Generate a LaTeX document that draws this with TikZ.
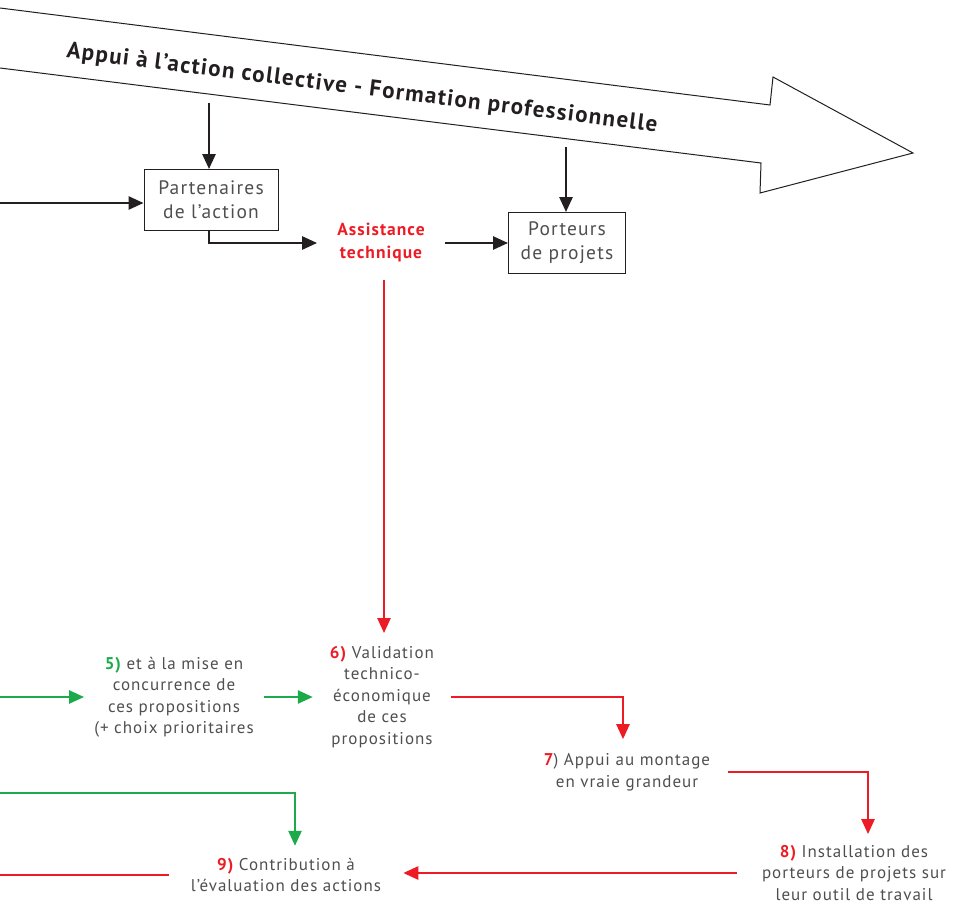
\documentclass[tikz,border=0pt]{standalone}
\usepackage{fontspec}
\setmainfont{PT Sans}[LetterSpace=6]
\usetikzlibrary{arrows.meta}
\definecolor{R}{HTML}{ED1C24}
\definecolor{G}{HTML}{1DAA4B}
\definecolor{txt}{HTML}{4F4F4F}
\definecolor{ink}{HTML}{231F20}

\tikzset{
  box/.style={draw=ink, line width=0.9pt, minimum width=134pt, minimum height=61pt, align=center, text=txt, font=\fontsize{19.5}{24}\selectfont},
  stage/.style={align=center, text=txt, font=\fontsize{17}{21.5}\selectfont},
  blk/.style={draw=ink, line width=2.6pt, -{Triangle[length=15pt,width=13pt]}},
  redarr/.style={draw=R, line width=2.5pt, -{Triangle[length=15pt,width=13pt]}},
  grnarr/.style={draw=G, line width=2.5pt, -{Triangle[length=15pt,width=13pt]}},
}

\begin{document}
\begin{tikzpicture}[x=1pt,y=-1pt]
    \useasboundingbox (0,0) rectangle (955,904);

    % big arrow
    \draw[draw=ink, line width=1pt] (0,8) -- (770,105) -- (773,77) -- (913,153) -- (760,193) -- (761,163) -- (0,68);
    \node at (362,89) (title) [rotate=-7.15, text=ink, font=\fontsize{23}{23}\selectfont\bfseries] {Appui à l’action collective - Formation professionnelle};

    \node at (211,200) (part) [box] {Partenaires\\de l’action};
    \node at (381,243) (assist) [stage, text=R, font=\fontsize{17.5}{23}\selectfont\bfseries, inner xsep=20pt, inner ysep=17pt] {Assistance\\technique};
    \node at (567,243) (port) [box, minimum width=117pt] {Porteurs\\de projets};

    \node at (174,697) (five) [stage, inner xsep=10pt] {\textcolor{G}{\bfseries 5)} et à la mise en\\concurrence de\\ces propositions\\(+ choix prioritaires};
    \node at (382,697) (six) [stage, inner xsep=17pt, inner ysep=13pt] {\textcolor{R}{\bfseries 6)} Validation\\technico-\\économique\\de ces\\propositions};
    \node at (627,772) (seven) [stage, inner xsep=18pt, inner ysep=14pt] {\textcolor{R}{\bfseries 7}) Appui au montage\\en vraie grandeur};
    \node at (854,873) (eight) [stage, inner xsep=25pt, inner ysep=11pt] {\textcolor{R}{\bfseries 8)} Installation des\\porteurs de projets sur\\leur outil de travail};
    \node at (286,875) (nine) [stage, inner xsep=22pt, inner ysep=12pt] {\textcolor{R}{\bfseries 9)} Contribution à\\l’évaluation des actions};

    \coordinate (bandA) at (209,103);
    \coordinate (bandB) at (566,147);
    \coordinate (leftA) at (0,203);
    \coordinate (left5) at (0,697);
    \coordinate (left9g) at (0,793);
    \coordinate (left9r) at (0,876);

    \draw[blk] (bandA) -- (bandA |- part.north);
    \draw[blk] (bandB) -- (bandB |- port.north);
    \draw[blk] (leftA) -- (leftA -| part.west);
    \draw[blk] ([xshift=-2pt]part.south) |- (assist.west);
    \draw[blk] (assist.east) -- (assist.east -| port.west);

    \draw[redarr] ([xshift=3pt]assist.south) -- ([xshift=3pt]assist.south |- six.north);
    \draw[grnarr] (five.west -| left5) -- (five.west);
    \draw[grnarr] (five.east) -- (five.east -| six.west);
    \draw[redarr] (six.east) -| ([xshift=-4pt]seven.north);
    \draw[redarr] (seven.east) -| ([xshift=14pt]eight.north);
    \draw[redarr] (eight.west) -- (eight.west -| nine.east);
    \draw[draw=R, line width=2.5pt] (nine.west) -- (nine.west -| left9r);
    \draw[grnarr] (left9g) -| ([xshift=9pt]nine.north);
\end{tikzpicture}
\end{document}
